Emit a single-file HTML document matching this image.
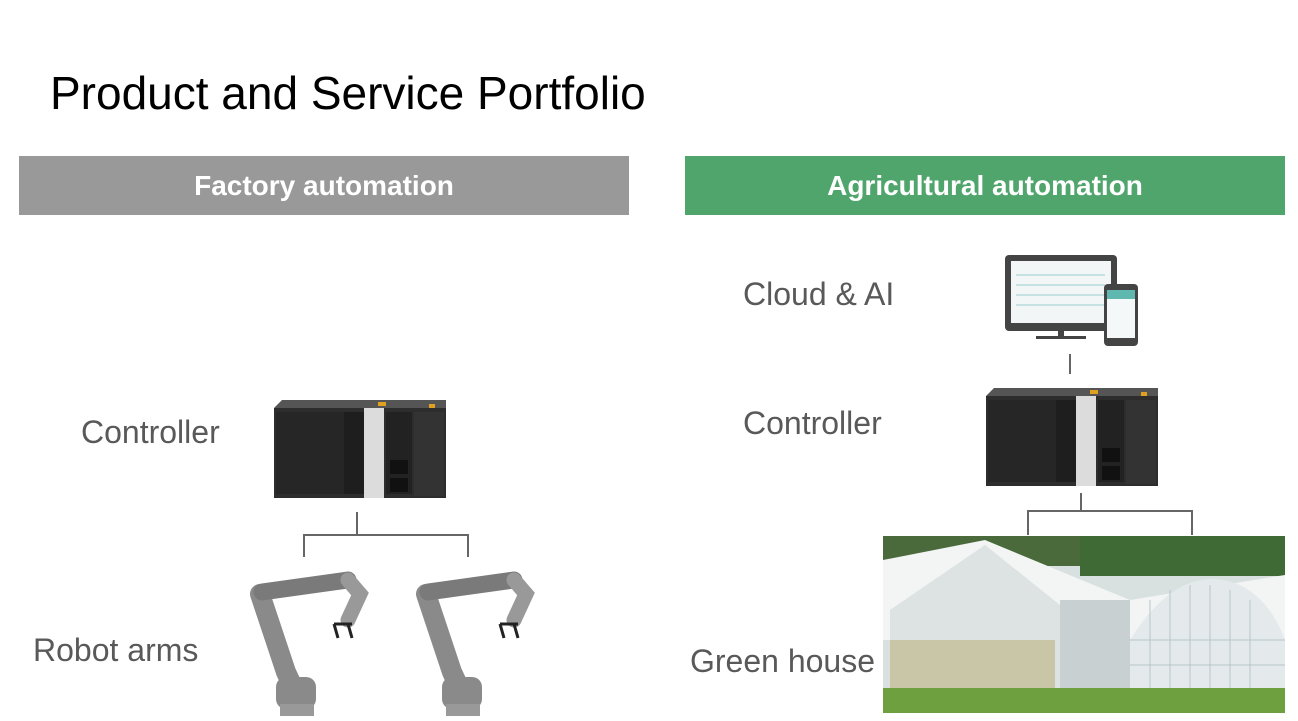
<!DOCTYPE html>
<html><head><meta charset="utf-8"><style>
body{margin:0;background:#fff;width:1298px;height:716px;overflow:hidden;font-family:"Liberation Sans",sans-serif}
</style></head><body>
<svg width="1298" height="716" viewBox="0 0 1298 716" xmlns="http://www.w3.org/2000/svg" font-family="Liberation Sans, sans-serif">
<defs>
<g id="ctrl">
 <rect x="0" y="8" width="172" height="90" fill="#2d2d2d"/>
 <polygon points="0,8 8,0 172,0 172,8" fill="#555"/>
 <rect x="2" y="12" width="68" height="82" fill="#262626"/>
 <rect x="70" y="12" width="20" height="82" fill="#1e1e1e"/>
 <rect x="90" y="8" width="20" height="90" fill="#dcdcdc"/>
 <rect x="112" y="12" width="26" height="82" fill="#222"/>
 <rect x="116" y="60" width="18" height="14" fill="#111"/>
 <rect x="116" y="78" width="18" height="14" fill="#111"/>
 <rect x="140" y="12" width="30" height="84" fill="#333"/>
 <rect x="104" y="2" width="8" height="4" fill="#e0a020"/>
 <rect x="155" y="4" width="6" height="4" fill="#e0a020"/>
</g>
<g id="robot">
 <path d="M12,22 L38,100 L45,115" stroke="#8a8a8a" stroke-width="20" fill="none" stroke-linecap="round"/>
 <path d="M14,20 L100,8" stroke="#7a7a7a" stroke-width="17" fill="none" stroke-linecap="round"/>
 <path d="M100,8 L112,22 L100,48" stroke="#999" stroke-width="15" fill="none" stroke-linecap="round"/>
 <rect x="28" y="105" width="40" height="32" rx="10" fill="#8a8a8a"/>
 <rect x="32" y="132" width="34" height="12" fill="#999"/>
 <path d="M86,52 l4,14 M100,52 l4,14 M86,52 h18" stroke="#222" stroke-width="3" fill="none"/>
</g>
</defs>
<text x="50" y="109" font-size="46" fill="#000">Product and Service Portfolio</text>
<rect x="19" y="156" width="610" height="59" fill="#999"/>
<text x="324" y="195" font-size="28" font-weight="bold" fill="#fff" text-anchor="middle">Factory automation</text>
<rect x="685" y="156" width="600" height="59" fill="#4fa56b"/>
<text x="985" y="195" font-size="28" font-weight="bold" fill="#fff" text-anchor="middle">Agricultural automation</text>
<g font-size="32" fill="#595959">
<text x="81" y="443">Controller</text>
<text x="33" y="661">Robot arms</text>
<text x="743" y="305">Cloud &amp; AI</text>
<text x="743" y="434">Controller</text>
<text x="690" y="672">Green house</text>
</g>
<use href="#ctrl" x="274" y="400"/>
<g stroke="#666" stroke-width="2" fill="none">
<path d="M357,512 V535 M304,557 V535 H468 V557"/>
<path d="M1070,354 V374"/>
<path d="M1081,493 V511 M1028,535 V511 H1192 V535"/>
</g>
<use href="#robot" x="248" y="572"/>
<use href="#robot" x="414" y="572"/>
<rect x="1005" y="255" width="112" height="76" rx="4" fill="#444"/>
<rect x="1011" y="261" width="100" height="62" fill="#f2f6f6"/>
<g stroke="#9cc" stroke-width="1"><path d="M1016,275 H1105 M1016,285 H1105 M1016,295 H1105 M1016,305 H1105"/></g>
<rect x="1058" y="331" width="6" height="6" fill="#444"/>
<rect x="1036" y="336" width="50" height="3" fill="#444"/>
<rect x="1104" y="284" width="34" height="62" rx="4" fill="#444"/>
<rect x="1107" y="290" width="28" height="48" fill="#f4f8f8"/>
<rect x="1107" y="290" width="28" height="9" fill="#5fb8b0"/>
<use href="#ctrl" x="986" y="388"/>
<rect x="883" y="536" width="402" height="177" fill="#d8e0e0"/>
<rect x="883" y="536" width="402" height="30" fill="#4a6a3c"/>
<rect x="1080" y="536" width="205" height="40" fill="#3f6a35"/>
<polygon points="883,560 985,540 1130,600 1285,575 1285,640 883,640" fill="#f3f4f4"/>
<polygon points="890,610 985,545 1060,605 1060,690 890,690" fill="#dde3e3"/>
<rect x="890" y="640" width="165" height="50" fill="#c9c6a8"/>
<rect x="1060" y="600" width="70" height="90" fill="#c9d0d2"/>
<path d="M1130,690 V640 Q1180,560 1240,585 Q1270,600 1285,640 V690 Z" fill="#e4eaec"/>
<g stroke="#b8c4c8" stroke-width="1"><path d="M1150,600 V690 M1170,590 V690 M1190,585 V690 M1210,585 V690 M1230,590 V690 M1250,600 V690 M1130,640 H1285 M1130,665 H1285"/></g>
<rect x="883" y="688" width="402" height="25" fill="#6fa040"/>
</svg>
</body></html>
